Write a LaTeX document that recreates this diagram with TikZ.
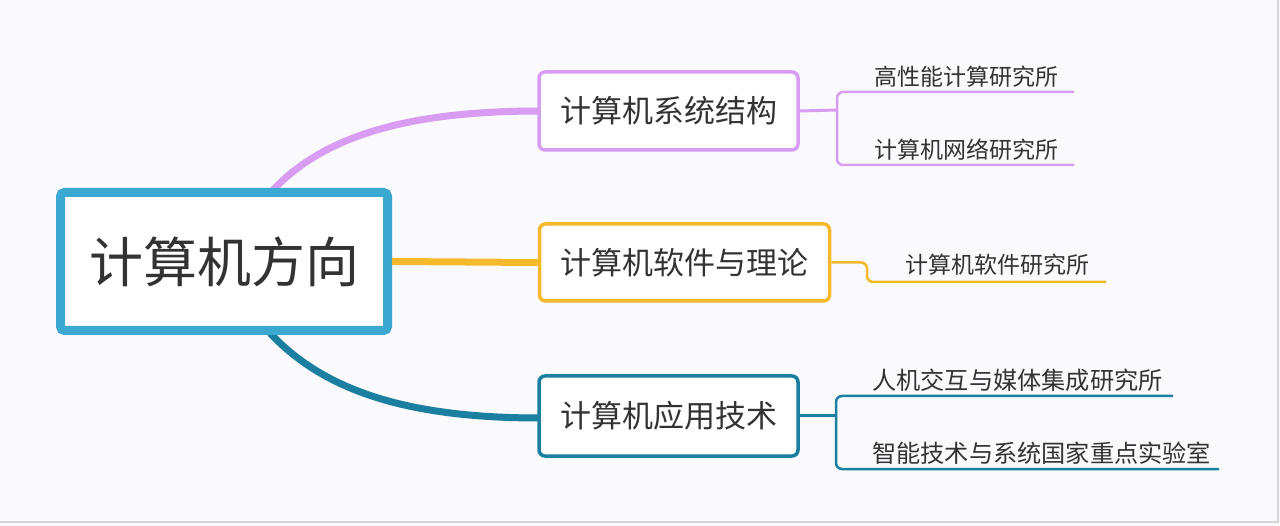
\documentclass[tikz,border=0pt]{standalone}
\usepackage{fontspec}
\setmainfont{Noto Sans CJK SC}
\begin{document}
\begin{tikzpicture}[x=1pt,y=-1pt,
  txt/.style={text=textgray, inner sep=0pt},
  mainbox/.style={draw=mainblue, line width=9pt, rounded corners=4pt, fill=white,
    minimum width=327pt, minimum height=138pt, inner sep=0pt, text=textgray,
    font=\fontsize{54}{60}\selectfont},
  subbox/.style={line width=3.5pt, rounded corners=6pt, fill=white, inner sep=0pt,
    text=textgray, font=\fontsize{31}{36}\selectfont},
  childtxt/.style={txt, anchor=west, font=\fontsize{23}{26}\selectfont},
  bigchild/.style={childtxt, font=\fontsize{24.2}{27}\selectfont},
  childline/.style={line width=2.5pt, rounded corners=6pt},
]
\definecolor{bg}{HTML}{FAFAFC}
\definecolor{textgray}{HTML}{333333}
\definecolor{mainblue}{HTML}{3AA8D1}
\definecolor{purp}{HTML}{D89DF3}
\definecolor{orng}{HTML}{F6B92B}
\definecolor{teal}{HTML}{1B7FA1}
\definecolor{frame}{HTML}{D4D4D4}

\useasboundingbox (0,0) rectangle (1280,526);
\fill[bg] (0,0) rectangle (1280,526);
\draw[frame, line width=1.5pt] (0,522) -- (1278,522) -- (1278,0);

% connectors from centre (drawn first, under boxes)
\coordinate (pstart) at (273,190);
\coordinate (tstart) at (270,333);
\draw[purp, line width=7pt] (pstart) .. controls (325,135) and (410,111) .. (540,111);
\draw[teal, line width=7pt] (tstart) .. controls (325,392) and (410,418) .. (540,418);

% main node
\node[mainbox] (main) at (224,261.5) {计算机方向};

% second-level boxes
\node[subbox, draw=purp, minimum width=259pt, minimum height=78pt] (sys) at (668.5,111) {计算机系统结构};
\node[subbox, draw=orng, minimum width=290pt, minimum height=77pt] (soft) at (684.5,262.5) {计算机软件与理论};
\node[subbox, draw=teal, minimum width=259pt, minimum height=80pt] (app) at (668.5,416) {计算机应用技术};

\draw[orng, line width=7pt] (main.east) -- (soft.west);

% purple children
\coordinate (pb) at (837,110);
\coordinate (p1s) at (837,92);  \coordinate (p1e) at (1074,92);
\coordinate (p2s) at (837,165); \coordinate (p2e) at (1074,165);
\draw[purp, line width=3pt] (sys.east) -- (pb);
\draw[purp, childline] (p1e) -- (p1s) -- (p2s) -- (p2e);
\node[childtxt] (c1) at (874,77) {高性能计算研究所};
\node[childtxt] (c2) at (874,150) {计算机网络研究所};

% orange child
\coordinate (ob) at (867,262.5);
\coordinate (o1s) at (867,282); \coordinate (o1e) at (1106,282);
\draw[orng, childline] (soft.east) -- (ob) -- (o1s) -- (o1e);
\node[childtxt] (c3) at (905,265) {计算机软件研究所};

% teal children
\coordinate (tb) at (836,416);
\coordinate (t1s) at (836,396); \coordinate (t1e) at (1173,396);
\coordinate (t2s) at (836,469); \coordinate (t2e) at (1219,469);
\draw[teal, line width=3pt] (app.east) -- (tb);
\draw[teal, childline] (t1e) -- (t1s) -- (t2s) -- (t2e);
\node[bigchild] (c4) at (872,380) {人机交互与媒体集成研究所};
\node[bigchild] (c5) at (872,453) {智能技术与系统国家重点实验室};
\end{tikzpicture}
\end{document}
